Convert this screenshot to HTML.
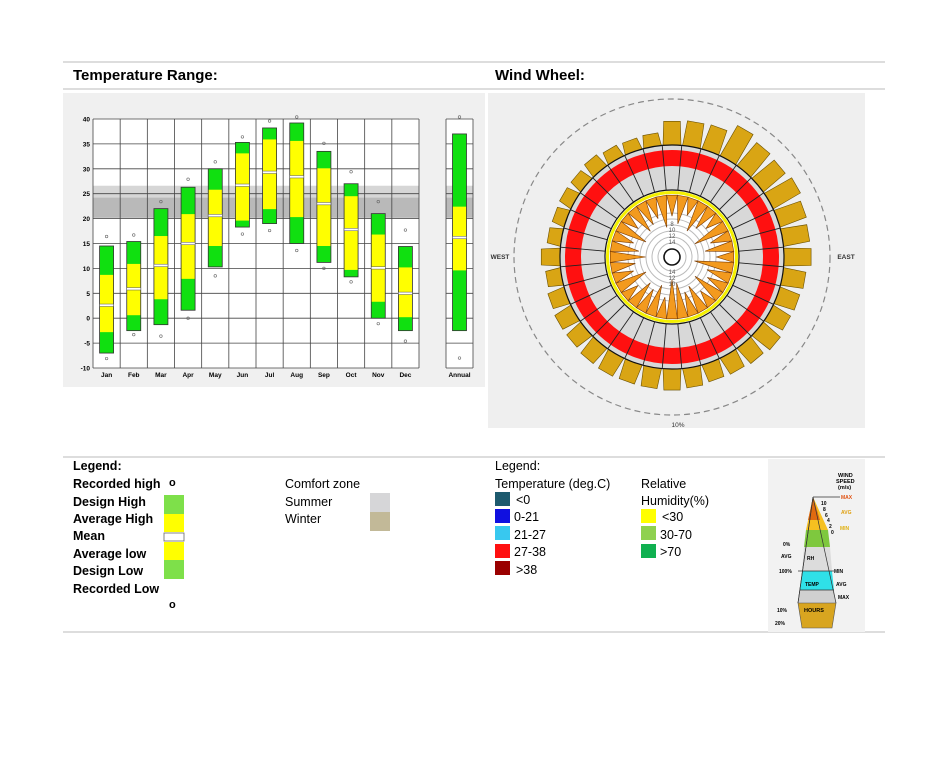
<!DOCTYPE html>
<html><head><meta charset="utf-8"><style>
body{margin:0;background:#fff;width:937px;height:768px;overflow:hidden}
svg{display:block;font-family:"Liberation Sans",sans-serif}
</style></head><body>
<svg id="s" width="937" height="768" viewBox="0 0 937 768">
<line x1="63" y1="62" x2="885" y2="62" stroke="#bbb"/>
<line x1="63" y1="89" x2="885" y2="89" stroke="#bbb"/>
<text x="73" y="80" font-size="15" font-weight="bold">Temperature Range:</text>
<text x="495" y="80" font-size="15" font-weight="bold">Wind Wheel:</text>
<rect x="63" y="93" width="422" height="294" fill="#f0f0f0"/>
<rect x="488" y="93" width="377" height="335" fill="#efefef"/>
<g id="temp"></g>
<g id="wind"></g>
<line x1="63" y1="457" x2="885" y2="457" stroke="#bbb"/>
<line x1="63" y1="632" x2="885" y2="632" stroke="#bbb"/>
<g font-size="12.5" font-weight="bold">
<text x="73" y="470">Legend:</text>
<text x="73" y="488">Recorded high</text><text x="169" y="486" font-size="11">o</text>
<text x="73" y="506">Design High</text>
<text x="73" y="523">Average High</text>
<text x="73" y="540">Mean</text>
<text x="73" y="558">Average low</text>
<text x="73" y="575">Design Low</text>
<text x="73" y="593">Recorded Low</text><text x="169" y="608" font-size="11">o</text>
<rect x="164" y="495" width="20" height="19" fill="#7ee04a"/>
<rect x="164" y="514" width="20" height="18" fill="#ffff00"/>
<rect x="164" y="533" width="20" height="8" fill="#fff" stroke="#666" stroke-width="0.8"/>
<rect x="164" y="542" width="20" height="18" fill="#ffff00"/>
<rect x="164" y="560" width="20" height="19" fill="#7ee04a"/>
</g>
<g font-size="12.5">
<text x="285" y="488">Comfort zone</text>
<text x="285" y="506">Summer</text>
<text x="285" y="523">Winter</text>
<rect x="370" y="493" width="20" height="19" fill="#d6d6d8"/>
<rect x="370" y="512" width="20" height="19" fill="#c2b998"/>
</g>
<g font-size="12.5">
<text x="495" y="470">Legend:</text>
<text x="495" y="488">Temperature (deg.C)</text>
<rect x="495" y="492" width="15" height="14" fill="#1d5a6e"/><text x="516" y="504">&lt;0</text>
<rect x="495" y="509" width="15" height="14" fill="#1010e0"/><text x="514" y="521">0-21</text>
<rect x="495" y="526" width="15" height="14" fill="#38c8ef"/><text x="514" y="539">21-27</text>
<rect x="495" y="544" width="15" height="14" fill="#ff1010"/><text x="514" y="556">27-38</text>
<rect x="495" y="561" width="15" height="14" fill="#9a0000"/><text x="516" y="574">&gt;38</text>
<text x="641" y="488">Relative</text>
<text x="641" y="505">Humidity(%)</text>
<rect x="641" y="509" width="15" height="14" fill="#ffff00"/><text x="662" y="521">&lt;30</text>
<rect x="641" y="526" width="15" height="14" fill="#8fd14f"/><text x="660" y="539">30-70</text>
<rect x="641" y="544" width="15" height="14" fill="#10b050"/><text x="660" y="556">&gt;70</text>
</g>
<g font-size="5" font-weight="bold">
<rect x="768" y="459" width="97" height="173" fill="#f2f2f2"/>
<text x="838" y="477" font-size="5.5">WIND</text><text x="836" y="483" font-size="5.5">SPEED</text><text x="838" y="489" font-size="5.5">(m/s)</text>
<polygon points="813,497 806,530 828,530" fill="#f6c020"/>
<polygon points="813,497 808,520 820,520" fill="#e06a10"/>
<polygon points="806,530 828,530 830,547 804,547" fill="#7ec83e"/>
<polygon points="804,547 830,547 832,571 802,571" fill="#dcdcdc"/>
<polygon points="802,571 832,571 834,590 800,590" fill="#2fe0e8"/>
<polygon points="800,590 834,590 836,603 798,603" fill="#d0d0d0"/>
<polygon points="798,603 836,603 832,628 802,628" fill="#d8a520" stroke="#555" stroke-width="0.6"/>
<polyline points="813,497 798,603 M" fill="none" stroke="#333" stroke-width="0.7"/>
<line x1="813" y1="497" x2="798" y2="603" stroke="#333" stroke-width="0.7"/>
<line x1="813" y1="497" x2="836" y2="603" stroke="#333" stroke-width="0.7"/>
<line x1="813" y1="497" x2="840" y2="497" stroke="#333" stroke-width="0.7"/>
<text x="841" y="499" fill="#e05010">MAX</text><text x="841" y="514" fill="#e0a010">AVG</text><text x="840" y="530" fill="#e0b010">MIN</text>
<text x="821" y="505">10</text><text x="823" y="511">8</text><text x="825" y="517">6</text><text x="827" y="522">4</text><text x="829" y="528">2</text><text x="831" y="534">0</text>
<text x="783" y="546">0%</text><text x="781" y="558">AVG</text><text x="779" y="573">100%</text>
<text x="807" y="560">RH</text><text x="805" y="586">TEMP</text><text x="804" y="612" font-size="5.5">HOURS</text>
<text x="834" y="573">MIN</text><text x="836" y="586">AVG</text><text x="838" y="599">MAX</text>
<text x="777" y="612">10%</text><text x="775" y="625">20%</text>
<line x1="798" y1="571" x2="834" y2="571" stroke="#333" stroke-width="0.7"/>
<line x1="800" y1="590" x2="834" y2="590" stroke="#333" stroke-width="0.7"/>
</g>
</svg>
<script>
const NS="http://www.w3.org/2000/svg";
function mk(p,t,a){const e=document.createElementNS(NS,t);for(const k in a)e.setAttribute(k,a[k]);p.appendChild(e);return e;}
// ---- temperature data ----
const months=["Jan","Feb","Mar","Apr","May","Jun","Jul","Aug","Sep","Oct","Nov","Dec"];
const recordedHigh=[16,16.3,23,27.5,31,36,39.2,40,34.7,29,23,17.3];
const designHigh=[14.5,15.4,22,26.3,30,35.3,38.2,39.2,33.5,27,21,14.4];
const avgHigh=[8.7,10.9,16.5,20.9,25.8,33.1,35.9,35.6,30.1,24.5,16.8,10.2];
const meanT=[2.6,5.9,10.6,15,20.6,26.7,29.3,28.4,23,17.8,10.1,5];
const avgLow=[-2.8,0.6,3.8,7.9,14.5,19.6,21.9,20.3,14.5,9.7,3.3,0.2];
const designLow=[-7,-2.5,-1.3,1.6,10.3,18.3,19,15,11.2,8.3,0,-2.5];
const recordedLow=[-7.7,-2.9,-3.2,0.4,8.9,17.3,18,14,10.4,7.7,-0.7,-4.2];
const annual=[40,37,22.4,16.2,9.6,-2.5,-7.6];
const yTicks=[-10,-5,0,5,10,15,20,25,30,35,40];
const summerZone=[20,26.6], winterZone=[20.2,24.2];
const T=document.getElementById('temp');
const Y=v=>119+(40-v)*249/50;
const L=93,R=419,CW=(R-L)/12;
function frame(x0,x1,n,names){
 mk(T,'rect',{x:x0,y:119,width:x1-x0,height:249,fill:'#fff'});
 mk(T,'rect',{x:x0,y:Y(summerZone[1]),width:x1-x0,height:Y(summerZone[0])-Y(summerZone[1]),fill:'#d6d6d6'});
 mk(T,'rect',{x:x0,y:Y(winterZone[1]),width:x1-x0,height:Y(winterZone[0])-Y(winterZone[1]),fill:'#b9b9b9'});
 yTicks.forEach(v=>{const l=mk(T,'line',{x1:x0,x2:x1,y1:Y(v),y2:Y(v),stroke:'#444','stroke-width':0.8});});
 for(let i=0;i<=n;i++){const x=x0+i*(x1-x0)/n;mk(T,'line',{x1:x,x2:x,y1:119,y2:368,stroke:'#444','stroke-width':0.8});}
}
frame(L,R,12);frame(446,473,1);
yTicks.forEach(v=>{const t=mk(T,'text',{x:90,y:Y(v)+2.5,'font-size':6.5,'font-weight':'bold','text-anchor':'end'});t.textContent=v;

});
function box(cx,vals,name){
 const [rh,dh,ah,m,al,dl,rl]=vals,w=14,x=cx-w/2;
 const g=mk(T,'g',{});
 
 
 mk(g,'rect',{x:x,y:Y(dh),width:w,height:Y(dl)-Y(dh),fill:'#10e010'});
 mk(g,'rect',{x:x,y:Y(ah),width:w,height:Y(al)-Y(ah),fill:'#ffff00'});
 mk(g,'rect',{x:x,y:Y(dh),width:w,height:Y(dl)-Y(dh),fill:'none',stroke:'#333','stroke-width':0.8});
 mk(g,'rect',{x:x,y:Y(m)-1.2,width:w,height:2.4,fill:'#fff',stroke:'#555','stroke-width':0.5});
 mk(g,'circle',{cx:cx,cy:Y(rh)-2,r:1.3,fill:'none',stroke:'#666','stroke-width':0.6});
 mk(g,'circle',{cx:cx,cy:Y(rl)+2,r:1.3,fill:'none',stroke:'#666','stroke-width':0.6});
}
months.forEach((mo,i)=>{const cx=L+(i+0.5)*CW;
 box(cx,[recordedHigh[i],designHigh[i],avgHigh[i],meanT[i],avgLow[i],designLow[i],recordedLow[i]],'box-'+mo.toLowerCase());
 const t=mk(T,'text',{x:cx,y:377,'font-size':6.5,'font-weight':'bold','text-anchor':'middle'});t.textContent=mo;
 
 });
box(459.5,annual,'box-annual');
{const t=mk(T,'text',{x:459.5,y:377,'font-size':6.5,'font-weight':'bold','text-anchor':'middle'});t.textContent='Annual';

}
// ---- wind wheel data (36 directions, clockwise from north) ----
const windDirs=[0,10,20,30,40,50,60,70,80,90,100,110,120,130,140,150,160,170,180,190,200,210,220,230,240,250,260,270,280,290,300,310,320,330,340,350];
const hoursPct=[6.3,6.6,6.8,9.2,8.0,7.6,8.3,7.4,7.0,7.2,6.0,5.6,5.4,6.0,5.4,5.0,4.8,5.2,5.6,5.4,5.4,5.6,5.4,5.0,5.0,4.6,4.0,5.0,3.6,3.4,3.6,3.6,4.0,3.4,3.2,3.4];
const windSpeed=[7,9,6,10,8,6,11,7,9,6,12,8,7,10,6,9,8,11,12,7,10,8,9,6,10,7,8,11,9,7,10,6,9,8,7,10];
const W=document.getElementById('wind');
const CX=672,CY=257,RI=112;
const rOut=p=>RI+p*3.8;
const rTip=s=>66-s*3.6;
const P=(r,a)=>{const t=(a-90)*Math.PI/180;return [CX+r*Math.cos(t),CY+r*Math.sin(t)];};
mk(W,'circle',{cx:CX,cy:CY,r:158,fill:'none',stroke:'#888','stroke-width':1.2,'stroke-dasharray':'6 4'});
windDirs.forEach((a,i)=>{const r=rOut(hoursPct[i]);
 const pts=[P(RI,a-4.6),P(r,a-3.5),P(r,a+3.5),P(RI,a+4.6)].map(p=>p.join(',')).join(' ');
 const e=mk(W,'polygon',{points:pts,fill:'#d9a514',stroke:'#6a5000','stroke-width':0.6});
 
 });
mk(W,'circle',{cx:CX,cy:CY,r:112,fill:'#d8d8d8',stroke:'#111','stroke-width':1.2});
mk(W,'circle',{cx:CX,cy:CY,r:99,fill:'none',stroke:'#ff1010','stroke-width':16});
mk(W,'circle',{cx:CX,cy:CY,r:67,fill:'#fff',stroke:'#111','stroke-width':1.2});
windDirs.forEach(a=>{const p1=P(67,a+5),p2=P(112,a+5);mk(W,'line',{x1:p1[0],y1:p1[1],x2:p2[0],y2:p2[1],stroke:'#222','stroke-width':0.9});});
mk(W,'circle',{cx:CX,cy:CY,r:64.5,fill:'none',stroke:'#f4f000','stroke-width':3});
mk(W,'circle',{cx:CX,cy:CY,r:61,fill:'none',stroke:'#222','stroke-width':1});
[14,20,26,32,38,44].forEach(r=>mk(W,'circle',{cx:CX,cy:CY,r:r,fill:'none',stroke:'#bbb','stroke-width':1}));
windDirs.forEach((a,i)=>{const pts=[P(62,a-5),P(rTip(windSpeed[i]),a),P(62,a+5)].map(p=>p.join(',')).join(' ');
 const e=mk(W,'polygon',{points:pts,fill:'#f39a1e',stroke:'#7a3a00','stroke-width':0.6});
 
 });
mk(W,'circle',{cx:CX,cy:CY,r:8,fill:'#fff',stroke:'#111','stroke-width':1.6});
[['8',-33],['10',-27],['12',-21],['14',-15],['14',15],['12',21],['10',27]].forEach(([t,dy])=>{const e=mk(W,'text',{x:CX,y:CY+dy+2,'font-size':6,'text-anchor':'middle',fill:'#555'});e.textContent=t;});
[['WEST',500,259],['EAST',846,259],['10%',678,427]].forEach(([t,x,y])=>{const e=mk(W,'text',{x:x,y:y,'font-size':6.5,'font-weight':t==='10%'?'normal':'bold','text-anchor':'middle',fill:'#333'});e.textContent=t;
 
 });
</script>
</body></html>
